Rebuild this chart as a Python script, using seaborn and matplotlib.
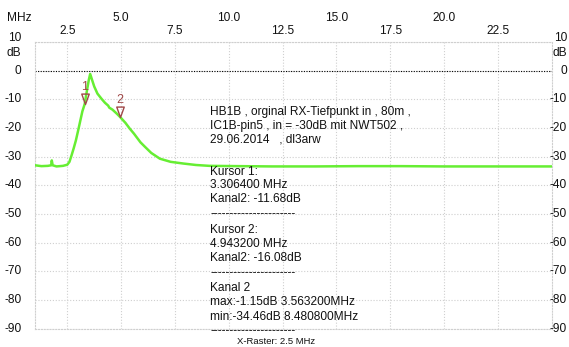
import matplotlib
matplotlib.use("Agg")
import matplotlib.pyplot as plt
from matplotlib.path import Path
import seaborn as sns
import pandas as pd

# ---- data ----
freq_mhz = [1.0, 1.3, 1.6, 1.75, 1.78, 1.82, 2.0, 2.3, 2.5, 2.6, 2.7, 2.8, 2.9, 3.0,
            3.1, 3.2, 3.3064, 3.4, 3.5, 3.5632, 3.65, 3.75, 3.9, 4.1, 4.25, 4.4, 4.45,
            4.6, 4.8, 4.9432, 5.2, 5.4, 5.6, 5.9, 6.1, 6.4, 6.8, 7.3, 7.9, 8.48, 9.1,
            10.5, 12.0, 14.0, 16.0, 18.0, 20.0, 22.0, 25.0]
level_db = [-33.0, -33.3, -33.2, -33.0, -31.3, -33.0, -33.4, -33.2, -32.8, -31.8, -29.5,
            -27.0, -24.3, -21.0, -17.6, -14.2, -11.68, -7.5, -3.2, -1.15, -3.2, -5.5,
            -8.0, -9.9, -11.2, -12.2, -12.9, -13.6, -15.0, -16.08, -18.2, -20.2, -22.0,
            -25.0, -26.5, -28.7, -30.7, -31.8, -32.4, -32.9, -33.2, -33.3, -33.4, -33.4,
            -33.3, -33.3, -33.4, -33.4, -33.4]

cursor_freq = [3.3064, 4.9432]
cursor_db = [-11.68, -16.08]
cursor_labels = ["1", "2"]

x_ticks = [2.5, 5.0, 7.5, 10.0, 12.5, 15.0, 17.5, 20.0, 22.5]
x_tick_labels = ["2.5", "5.0", "7.5", "10.0", "12.5", "15.0", "17.5", "20.0", "22.5"]
y_ticks = [10, 0, -10, -20, -30, -40, -50, -60, -70, -80, -90]
y_tick_labels = ["10", "0", "-10", "-20", "-30", "-40", "-50", "-60", "-70", "-80", "-90"]

info_lines = [
    "HB1B , orginal RX-Tiefpunkt in , 80m ,",
    "IC1B-pin5 , in = -30dB mit NWT502 ,",
    "29.06.2014   , dl3arw",
]
cursor_lines = [
    "Kursor 1:", "3.306400 MHz", "Kanal2: -11.68dB", "-" * 22,
    "Kursor 2:", "4.943200 MHz", "Kanal2: -16.08dB", "-" * 22,
    "Kanal 2", "max:-1.15dB 3.563200MHz", "min:-34.46dB 8.480800MHz", "-" * 22,
]

# ---- figure ----
sns.set_style("white")
plt.rcParams["font.family"] = ["Liberation Sans", "DejaVu Sans"]

W, H = 569, 347
fig = plt.figure(figsize=(W / 100, H / 100), dpi=100)
L, R, T, B = 35, 551.7, 42, 328.7
ax = fig.add_axes([L / W, (H - B) / H, (R - L) / W, (B - T) / H])

df = pd.DataFrame({"f": freq_mhz, "db": level_db})
sns.lineplot(data=df, x="f", y="db", ax=ax, color="#66ee33", linewidth=1.8,
             zorder=3, legend=False)

ax.set_xlim(1.0, 25.0)
ax.set_ylim(-90, 10)
ax.set_xlabel("")
ax.set_ylabel("")

grid_c = "#cfcfcf"
dot = (0, (1, 1.6))
for s in ax.spines.values():
    s.set_visible(True)
    s.set_color(grid_c)
    s.set_linestyle(dot)
    s.set_linewidth(0.8)

ax.set_xticks(x_ticks)
ax.set_yticks(y_ticks)
ax.set_xticklabels([])
ax.set_yticklabels([])
ax.tick_params(length=0)
ax.grid(True, color=grid_c, linestyle=dot, linewidth=0.8, zorder=0)
ax.axhline(0, color="black", linestyle=(0, (1, 1.3)), linewidth=0.8, zorder=1)

fs = 8.6
txt_c = "#111111"
# x tick labels, alternating rows above plot
for i, (xv, lab) in enumerate(zip(x_ticks, x_tick_labels)):
    ypx = 31 if i % 2 == 0 else 18
    yax = (B - ypx) / (B - T)
    ax.text(xv, yax, lab, transform=ax.get_xaxis_transform(), ha="center",
            va="center", fontsize=fs, color=txt_c, clip_on=False)
fig.text(7 / W, 1 - 18 / H, "MHz", ha="left", va="center", fontsize=fs, color=txt_c)

# y tick labels, both sides
xl = (21.5 - L) / (R - L)
xr = (567 - L) / (R - L)
for yv, lab in zip(y_ticks, y_tick_labels):
    dy = 1.5 if yv == 10 else 0
    ax.text(xl, yv + dy, lab, transform=ax.get_yaxis_transform(), ha="right",
            va="center", fontsize=fs, color=txt_c, clip_on=False)
    ax.text(xr, yv + dy, lab, transform=ax.get_yaxis_transform(), ha="right",
            va="center", fontsize=fs, color=txt_c, clip_on=False)
ax.text(xl, 6.3, "dB", transform=ax.get_yaxis_transform(), ha="right", va="center",
        fontsize=fs, color=txt_c, clip_on=False)
ax.text(xr, 6.3, "dB", transform=ax.get_yaxis_transform(), ha="right", va="center",
        fontsize=fs, color=txt_c, clip_on=False)

# cursor markers: downward triangle with tip on the curve
tri = Path([(-0.36, 1.0), (0.36, 1.0), (0.0, 0.0), (-0.36, 1.0)],
           [Path.MOVETO, Path.LINETO, Path.LINETO, Path.CLOSEPOLY])
mk_c = "#a04848"
ax.plot(cursor_freq, cursor_db, linestyle="none", marker=tri, markersize=15,
        markerfacecolor="none", markeredgecolor=mk_c, markeredgewidth=1.0, zorder=4)
for xv, yv, lab in zip(cursor_freq, cursor_db, cursor_labels):
    ax.annotate(lab, (xv, yv), xytext=(0, 12), textcoords="offset points",
                ha="center", va="center", fontsize=fs + 0.4, color=mk_c, zorder=4)

# info text block
tx = 210.5 / W
info_y = [111.7, 125.5, 140.0]
for ypx, line in zip(info_y, info_lines):
    fig.text(tx, 1 - ypx / H, line, ha="left", va="center", fontsize=fs, color=txt_c)
cur_y = [171.7, 185.0, 198.6, 214.0, 229.8, 244.0, 258.3, 273.0,
         288.3, 302.0, 316.5, 331.5]
for ypx, line in zip(cur_y, cursor_lines):
    fig.text(tx, 1 - ypx / H, line, ha="left", va="center", fontsize=fs, color=txt_c)
fig.text(237 / W, 1 - 341.5 / H, "X-Raster: 2.5 MHz", ha="left", va="center",
         fontsize=6.8, color=txt_c)

fig.savefig("out.png", dpi=100, facecolor="white")
